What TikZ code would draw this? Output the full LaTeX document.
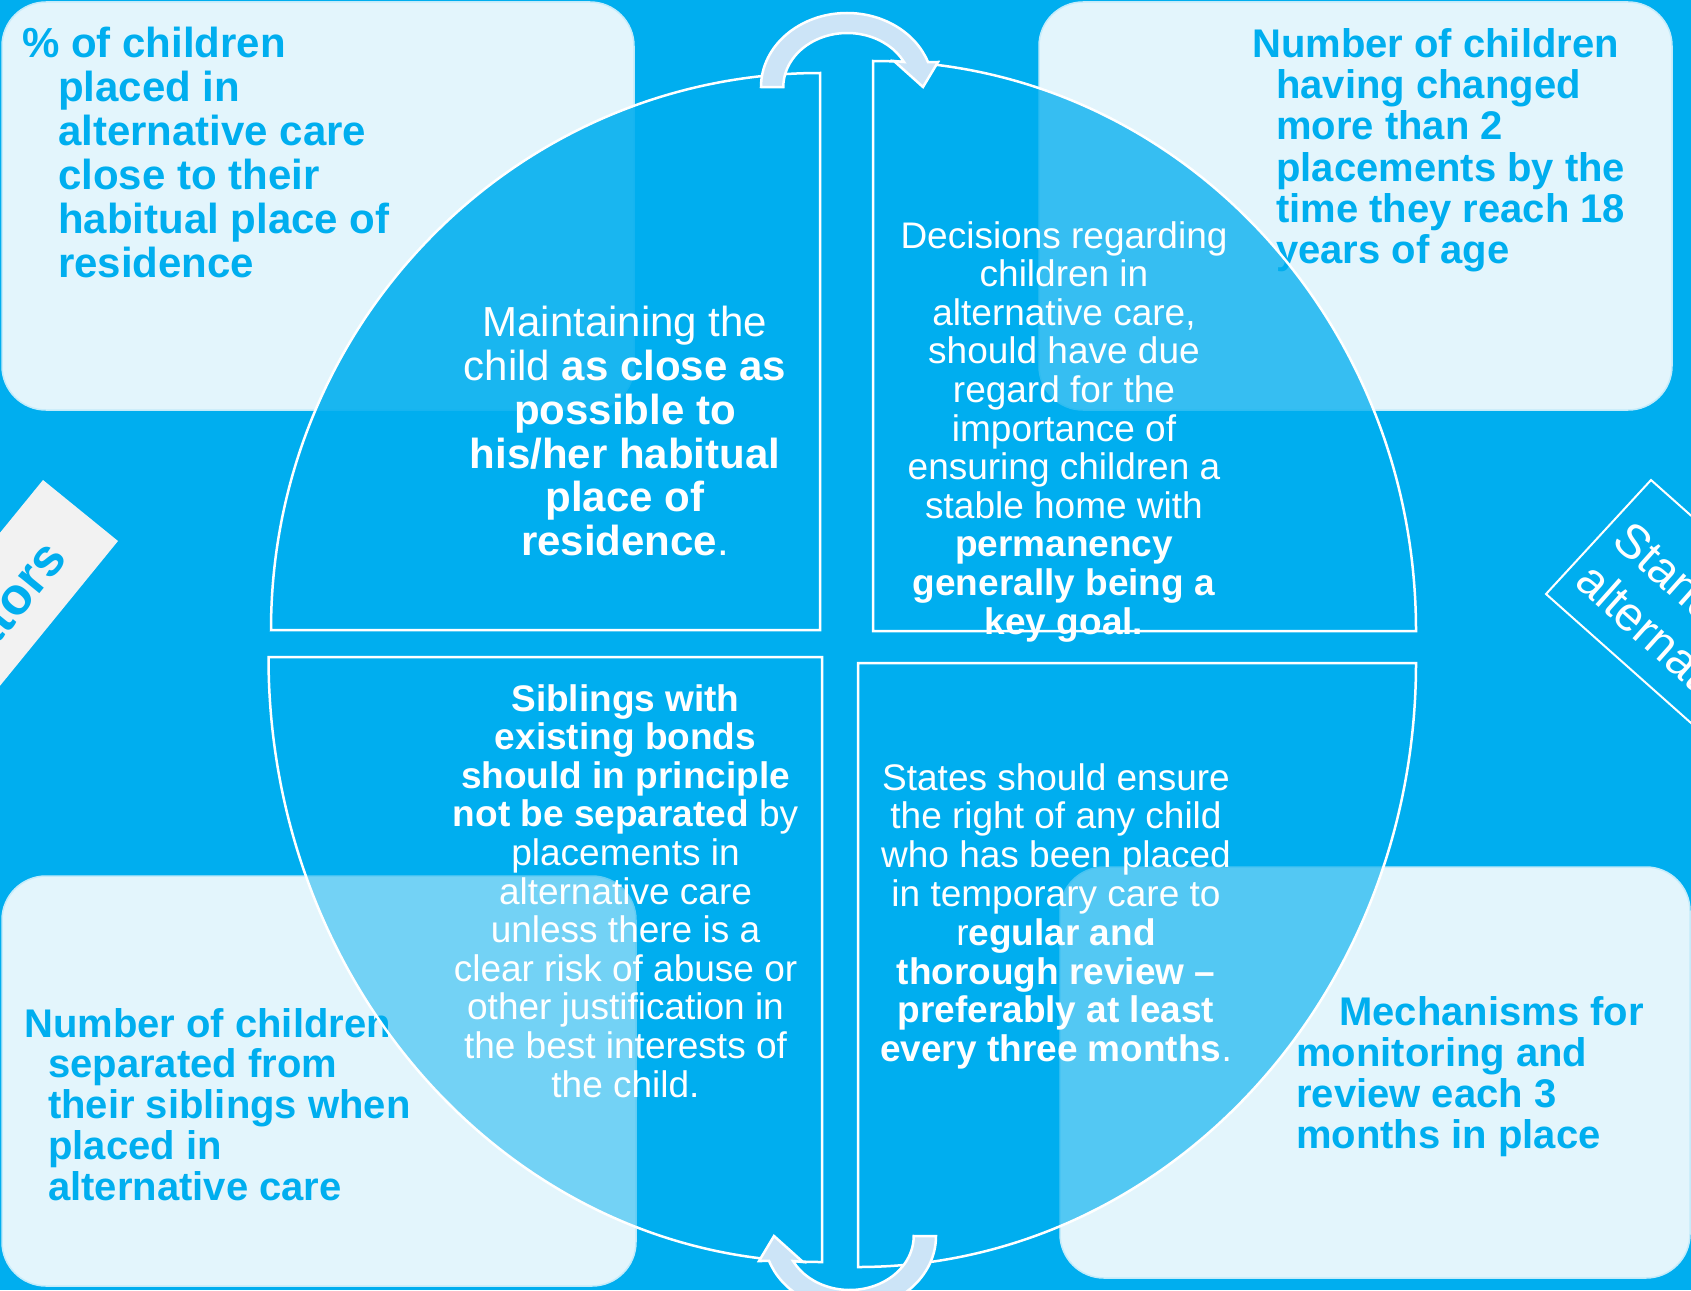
\documentclass[tikz,border=0pt]{standalone}
\usepackage{fontspec}
\setmainfont{Liberation Sans}
\definecolor{bg}{HTML}{00AEEF}
\definecolor{boxfill}{HTML}{E3F5FC}
\definecolor{boxline}{HTML}{C4EBFA}
\definecolor{arrowfill}{HTML}{CCE4F7}
\definecolor{labelfill}{HTML}{F2F2F2}
\tikzset{
  infobox/.style={fill=boxfill, draw=boxline, line width=1.5, rounded corners=44},
  boxtext/.style={text=bg, align=left, inner sep=0, anchor=north west},
  quarter/.style={fill=bg, draw=white, line width=2.5},
  qtext/.style={text=white, align=center, inner sep=0, anchor=north},
  turnarrow/.style={fill=arrowfill, draw=white, line width=2.5, line join=miter},
}
\def\turnpath{(761,87) arc[start angle=180, end angle=340.3, x radius=86, y radius=74] -- (938,62) -- (923,87) -- (894,61) -- (904,62) arc[start angle=332.4, end angle=180, x radius=64, y radius=54] -- cycle}
\begin{document}
\begin{tikzpicture}[x=1pt,y=-1pt]
\useasboundingbox (0,0) rectangle (1691,1290);
\clip (0,0) rectangle (1691,1290);
\fill[bg] (0,0) rectangle (1691,1290);

% corner boxes
\draw[infobox] (2,2) rectangle (634,410);
\draw[infobox] (1039,2) rectangle (1672,410);
\draw[infobox] (2,876) rectangle (636,1286);
\draw[infobox] (1060,867) rectangle (1690,1278);

\node[boxtext, font=\bfseries\fontsize{42}{44}\selectfont] (tlbox) at (22,27)
  {\% of children\\\hspace*{36pt}placed in\\\hspace*{36pt}alternative care\\\hspace*{36pt}close to their\\\hspace*{36pt}habitual place of\\\hspace*{36pt}residence};
\node[boxtext, font=\bfseries\fontsize{40}{41.3}\selectfont] (trbox) at (1252,28)
  {Number of children\\\hspace*{24pt}having changed\\\hspace*{24pt}more than 2\\\hspace*{24pt}placements by the\\\hspace*{24pt}time they reach 18\\\hspace*{24pt}years of age};
\node[boxtext, font=\bfseries\fontsize{40}{40.8}\selectfont] (blbox) at (24,1008)
  {Number of children\\\hspace*{24pt}separated from\\\hspace*{24pt}their siblings when\\\hspace*{24pt}placed in\\\hspace*{24pt}alternative care};
\node[boxtext, font=\bfseries\fontsize{40}{41}\selectfont] (brbox) at (1296,996)
  {\hspace*{43pt}Mechanisms for\\monitoring and\\review each 3\\months in place};

% side labels
\fill[labelfill] (43,480) -- (118,541) -- (-261,1006) -- (-336,945) -- cycle;
\node[rotate=50.8, anchor=east, text=bg, font=\bfseries\fontsize{52}{60}\selectfont, inner sep=0] (indic) at (54,547) {Indicators};
\draw[white, line width=2] (1651,480) -- (1546,594) -- (1845,860) -- (1950,746) -- cycle;
\node[rotate=-41.7, anchor=west, text=white, align=left, font=\fontsize{48}{56}\selectfont, inner sep=0] (stand) at (1603,551) {Standards for\\alternative care};

% quarters
\draw[quarter, fill opacity=0.885] (820,630) -- (271,630) arc[start angle=180, end angle=270, x radius=549, y radius=557] -- cycle;
\draw[quarter, fill opacity=0.76] (873,631) -- (873,61) arc[start angle=270, end angle=360, x radius=543, y radius=570] -- cycle;
\draw[quarter, fill opacity=0.49] (822,657) -- (268.5,657) arc[start angle=180, end angle=90, x radius=553.5, y radius=605] -- cycle;
\draw[quarter, fill opacity=0.63] (858,663) -- (858,1267) arc[start angle=90, end angle=0, x radius=558, y radius=604] -- cycle;

\node[qtext, font=\fontsize{42}{43.8}\selectfont] (q1) at (625,306)
  {Maintaining the\\child \textbf{as close as}\\\textbf{possible to}\\\textbf{his/her habitual}\\\textbf{place of}\\\textbf{residence}.};
\node[qtext, font=\fontsize{37}{38.6}\selectfont] (q2) at (1064,221)
  {Decisions regarding\\children in\\alternative care,\\should have due\\regard for the\\importance of\\ensuring children a\\stable home with\\\textbf{permanency}\\\textbf{generally being a}\\\textbf{key goal.}};
\node[qtext, font=\fontsize{37}{38.6}\selectfont] (q3) at (625.5,684)
  {\textbf{Siblings with}\\\textbf{existing bonds}\\\textbf{should in principle}\\\textbf{not be separated} by\\placements in\\alternative care\\unless there is a\\clear risk of abuse or\\other justification in\\the best interests of\\the child.};
\node[qtext, font=\fontsize{37}{38.8}\selectfont] (q4) at (1056,763)
  {States should ensure\\the right of any child\\who has been placed\\in temporary care to\\r\textbf{egular and}\\\textbf{thorough review –}\\\textbf{preferably at least}\\\textbf{every three months}.};

% turning arrows
\draw[turnarrow] \turnpath;
\begin{scope}[rotate around={180:(848.5,661.5)}]
\draw[turnarrow] \turnpath;
\end{scope}
\end{tikzpicture}
\end{document}
